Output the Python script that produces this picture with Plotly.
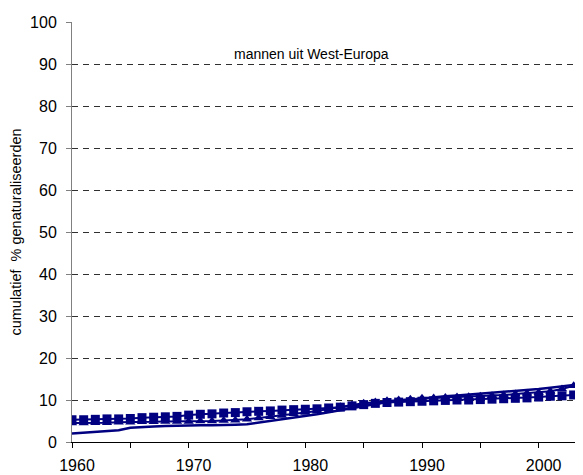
import plotly.graph_objects as go

years = list(range(1960, 2004))

line_vals = [2.0, 2.2, 2.3, 2.5, 2.8, 3.4, 3.6, 3.7, 3.8, 3.9,
             3.9, 4.0, 4.0, 4.0, 4.1, 4.2, 4.6, 5.0, 5.4, 5.8,
             6.1, 6.6, 7.1, 7.6, 8.0, 8.5, 9.0, 9.5, 9.8, 10.1,
             10.4, 10.7, 10.9, 11.1, 11.3, 11.6, 11.8, 12.0, 12.2, 12.4,
             12.6, 12.9, 13.2, 13.6]

square_vals = [5.3, 5.3, 5.4, 5.5, 5.5, 5.6, 5.8, 5.9, 6.0, 6.1,
               6.4, 6.6, 6.7, 6.9, 7.0, 7.2, 7.3, 7.4, 7.6, 7.7,
               7.8, 7.9, 8.1, 8.3, 8.6, 8.9, 9.2, 9.4, 9.5, 9.6,
               9.7, 9.8, 9.9, 10.0, 10.0, 10.1, 10.2, 10.3, 10.4, 10.5,
               10.7, 10.9, 11.0, 11.2]

triangle_vals = [4.5, 4.5, 4.6, 4.6, 4.7, 4.7, 4.8, 4.8, 4.9, 4.9,
                 4.9, 5.0, 5.0, 5.1, 5.2, 5.4, 5.7, 6.0, 6.3, 6.7,
                 7.0, 7.4, 7.9, 8.4, 8.8, 9.2, 9.5, 9.8, 10.0, 10.2,
                 10.4, 10.5, 10.6, 10.7, 10.8, 10.9, 11.0, 11.2, 11.4, 11.6,
                 11.8, 12.1, 12.6, 13.4]

title_text = "mannen uit West-Europa"
y_title = "cumulatief  % genaturaliseerden"

navy = "#000080"
font = "Liberation Sans, Arial, sans-serif"

fig = go.Figure()
fig.add_trace(go.Scatter(x=years, y=line_vals, mode="lines",
                         line=dict(color=navy, width=2.5), showlegend=False))
fig.add_trace(go.Scatter(x=years, y=triangle_vals, mode="lines+markers",
                         line=dict(color=navy, width=2),
                         marker=dict(symbol="triangle-up", size=9, color=navy),
                         showlegend=False))
fig.add_trace(go.Scatter(x=years, y=square_vals, mode="lines+markers",
                         line=dict(color=navy, width=2),
                         marker=dict(symbol="square", size=9, color=navy),
                         showlegend=False))

# page body has an 8px margin, so the figure starts at (8, 8)
fig.update_layout(
    width=575, height=467,
    margin=dict(l=64, r=0, t=14, b=33),
    paper_bgcolor="white", plot_bgcolor="white",
    font=dict(family=font, size=16, color="black"),
    showlegend=False,
    annotations=[dict(text=title_text, x=0.468, y=0.948, xref="paper", yref="paper",
                      showarrow=False, font=dict(family=font, size=14, color="black"))],
)

fig.update_xaxes(
    range=[1960, 2003.8], dtick=10, tick0=1960,
    ticks="outside", ticklen=5, tickcolor="black",
    showline=True, linecolor="black", linewidth=1,
    showgrid=False, zeroline=False,
    minor=dict(dtick=5, tick0=1960, ticks="outside", ticklen=5, tickcolor="black", showgrid=False),
    tickfont=dict(size=16),
    ticklabelstandoff=4, ticklabelshift=5,
)
fig.update_yaxes(
    range=[0, 100], dtick=10,
    ticks="outside", ticklen=5, tickcolor="#808080",
    showline=True, linecolor="#808080", linewidth=1,
    showgrid=True, gridcolor="#303030", griddash="6px,5px", gridwidth=1,
    zeroline=False,
    title=dict(text=y_title, font=dict(size=14.5), standoff=7),
    tickfont=dict(size=16),
    ticklabelstandoff=6,
)

fig.write_html("out.html")
